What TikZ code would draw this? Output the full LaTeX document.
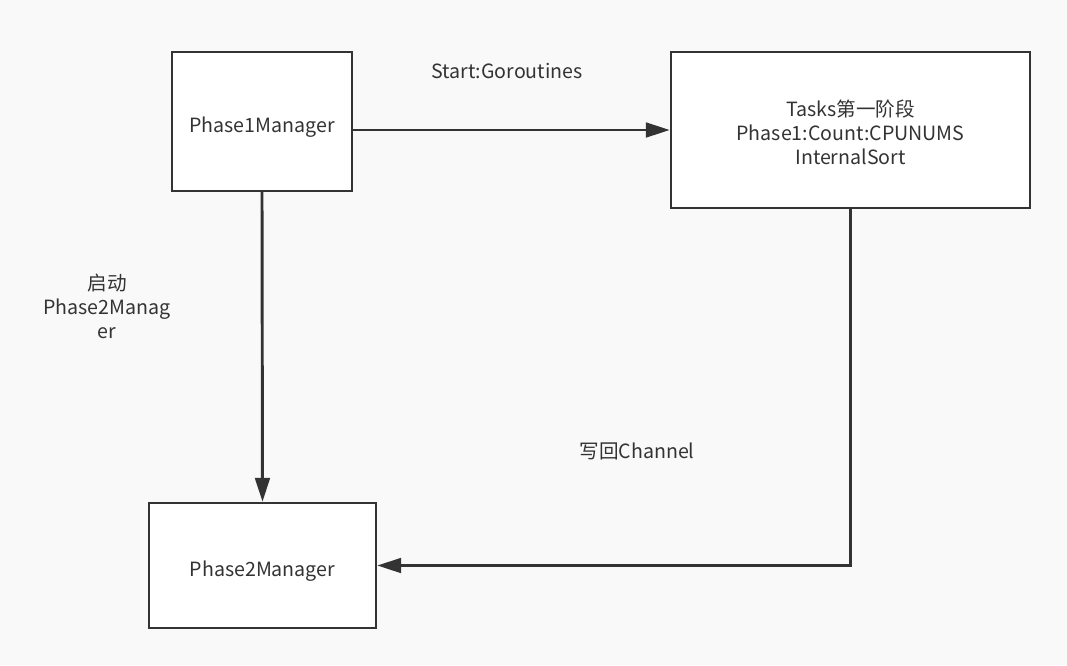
\documentclass[tikz,border=0pt]{standalone}
\usepackage{fontspec}
\setmainfont{Noto Sans CJK SC}
\usepackage{xcolor}
\usepackage{tikz}
\usetikzlibrary{arrows.meta}
\definecolor{bgcol}{HTML}{F9F9F9}
\definecolor{inkcol}{HTML}{333333}

\begin{document}
\begin{tikzpicture}[x=0.75pt, y=-0.75pt, font=\fontsize{14.7}{18}\selectfont, every node/.style={text=inkcol, align=center}, every label/.style={text=inkcol, align=center}, box/.style={draw=inkcol, line width=1.8pt, fill=white, inner sep=0pt}, link/.style={draw=inkcol, line width=2.2pt, -{Triangle[length=18pt, width=11pt]}}]
  \fill[bgcol] (0,0) rectangle (1067,665);
  \useasboundingbox (0,0) rectangle (1067,665);
  \node[box, minimum width=180*0.75pt, minimum height=139*0.75pt, label={[yshift=-4.5pt]center:Phase1Manager}](p1) at (262,121.5){};
  \node[box, minimum width=359*0.75pt, minimum height=156*0.75pt, label={[yshift=-2pt]center:Tasks第一阶段\\Phase1:Count:CPUNUMS\\InternalSort}](tasks) at (850.5,130){};
  \node[box, minimum width=227*0.75pt, minimum height=125*0.75pt, label={[yshift=-4.5pt]center:Phase2Manager}](p2) at (262.5,565.5){};
  % connectors
  \draw[link] (tasks.west -| p1.east) -- (tasks.west);
  \draw[link] (p1.south) -- (p2.north);
  \draw[link] (tasks.south) |- (p2.east);
  % labels
  \node(lstart) at (507,71){Start:Goroutines};
  \node(lstartp2) at (107,306){启动\\Phase2Manag\\er};
  \node(lback) at (637,451){写回Channel};
\end{tikzpicture}
\end{document}
